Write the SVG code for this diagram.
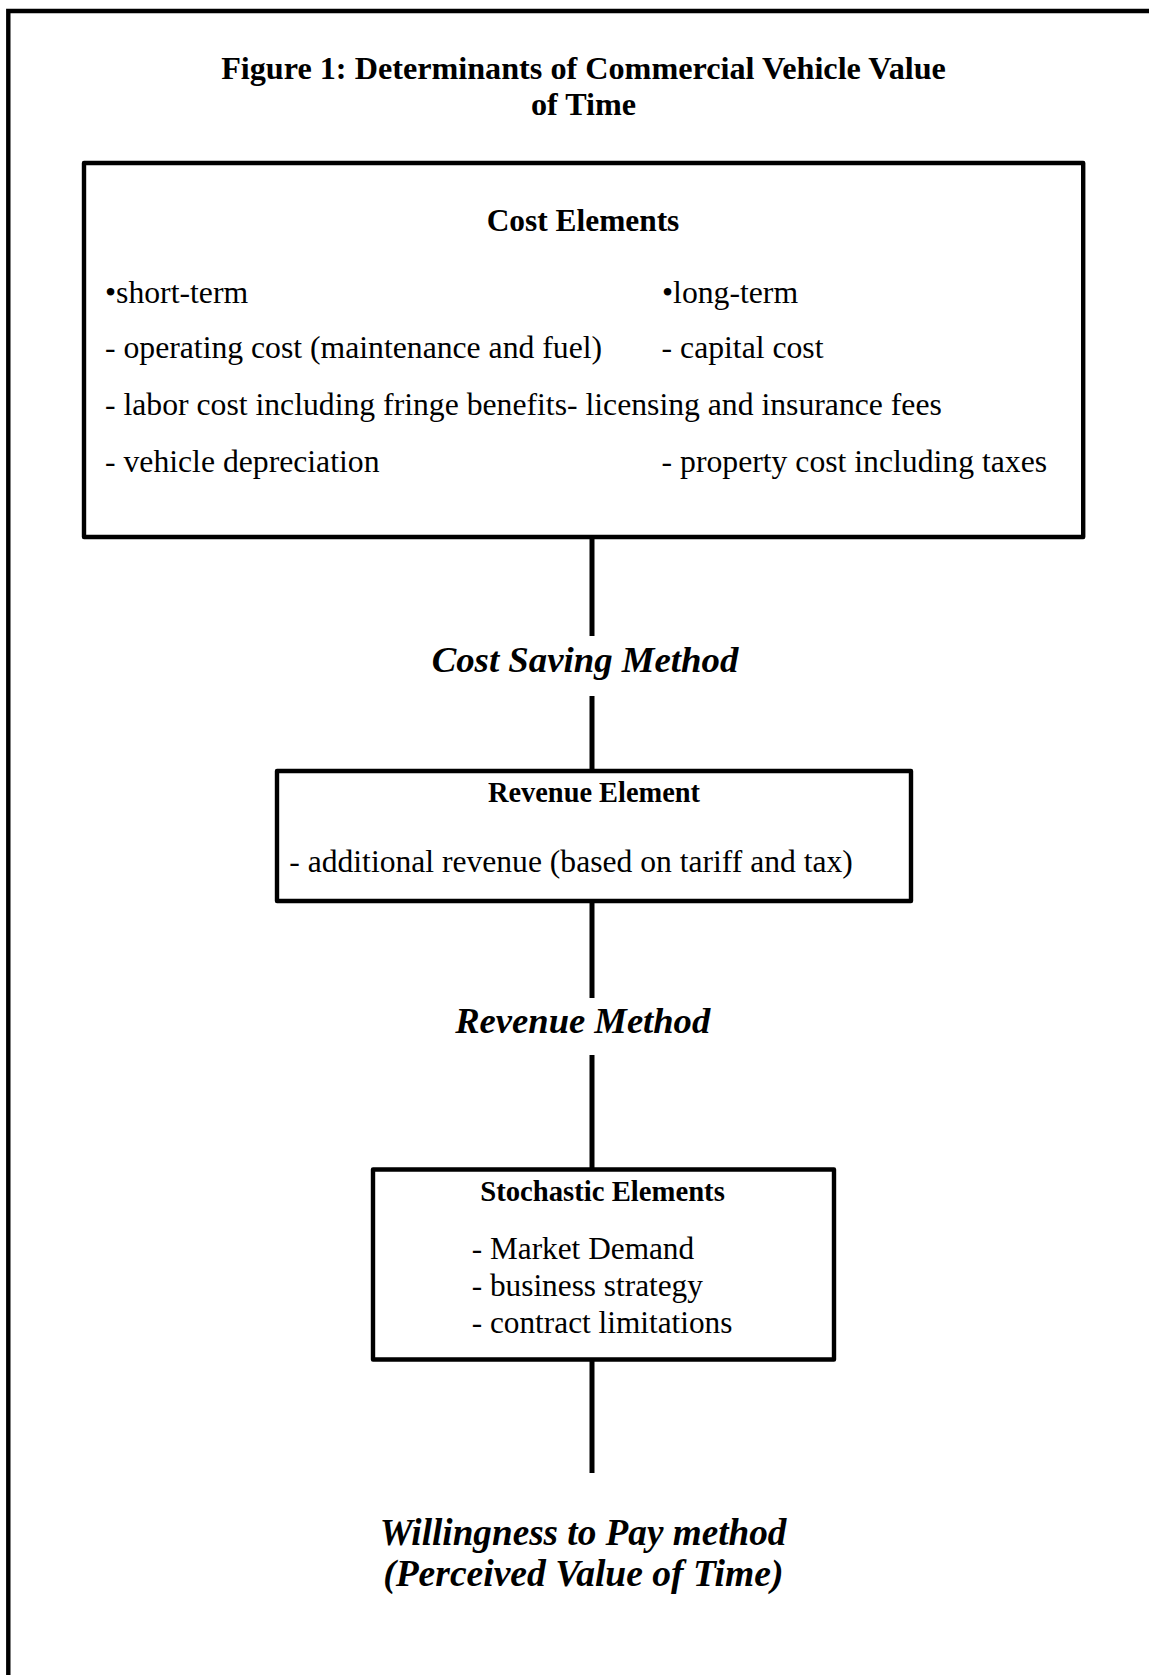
<svg xmlns="http://www.w3.org/2000/svg" width="1149" height="1675" viewBox="0 0 1149 1675">
<style>
.box{fill:#fff;stroke:#000;stroke-width:4.4;stroke-linejoin:round}
.con{stroke:#000;stroke-width:5;fill:none}
.t{font-family:"Liberation Serif","Times New Roman",serif;fill:#000}
.b{font-weight:bold}
.bi{font-weight:bold;font-style:italic}
.c{text-anchor:middle}
</style>
<rect width="1149" height="1675" fill="#fff"/>
<path d="M8.3,1690 V11 H1160" fill="none" stroke="#000" stroke-width="4.4"/>
<g id="title">
<text class="t b c" x="583.5" y="79" font-size="32.2">Figure 1: Determinants of Commercial Vehicle Value</text>
<text class="t b c" x="583.5" y="115" font-size="32.2">of Time</text>
</g>
<g id="connectors">
<line class="con" x1="592" y1="537" x2="592" y2="636"/>
<line class="con" x1="592" y1="696" x2="592" y2="771"/>
<line class="con" x1="592" y1="901" x2="592" y2="998"/>
<line class="con" x1="592" y1="1055" x2="592" y2="1169"/>
<line class="con" x1="592" y1="1359" x2="592" y2="1473"/>
</g>
<g id="cost-elements">
<rect class="box" x="84" y="163" width="999.2" height="374"/>
<text class="t b c" x="583" y="230.7" font-size="31.4">Cost Elements</text>
<g class="t" font-size="31.7">
<text x="105" y="302.7">•short-term</text>
<text x="105" y="358.3">- operating cost (maintenance and fuel)</text>
<text x="105" y="415">- labor cost including fringe benefits</text>
<text x="105" y="471.7">- vehicle depreciation</text>
<text x="662" y="302.7">•long-term</text>
<text x="661.6" y="358.3">- capital cost</text>
<text x="567" y="415">- licensing and insurance fees</text>
<text x="661.6" y="471.7">- property cost including taxes</text>
</g>
</g>
<g id="cost-saving-method">
<text class="t bi c" x="585" y="671.7" font-size="36.8">Cost Saving Method</text>
</g>
<g id="revenue-element">
<rect class="box" x="277" y="771" width="634" height="130"/>
<text class="t b c" x="594" y="801.7" font-size="28.4">Revenue Element</text>
<text class="t" x="289.3" y="871.7" font-size="31.6">- additional revenue (based on tariff and tax)</text>
</g>
<g id="revenue-method">
<text class="t bi c" x="582.7" y="1032.7" font-size="36.6">Revenue Method</text>
</g>
<g id="stochastic-elements">
<rect class="box" x="373" y="1169.5" width="461" height="190"/>
<text class="t b c" x="602.5" y="1200.7" font-size="28.7">Stochastic Elements</text>
<g class="t" font-size="31.3">
<text x="471.7" y="1259.3">- Market Demand</text>
<text x="471.7" y="1295.7">- business strategy</text>
<text x="471.7" y="1333.3">- contract limitations</text>
</g>
</g>
<g id="willingness-to-pay">
<text class="t bi c" x="583" y="1545" font-size="37.2">Willingness to Pay method</text>
<text class="t bi c" x="583.3" y="1586" font-size="37.6">(Perceived Value of Time)</text>
</g>
</svg>
